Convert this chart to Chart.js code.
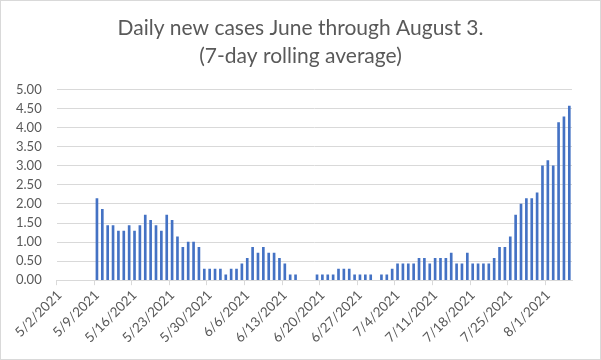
<!DOCTYPE html>
<html>
<head>
<meta charset="utf-8">
<script src="https://cdn.jsdelivr.net/npm/chart.js@4"></script>
<style>
  html, body { margin: 0; padding: 0; background: #fff; }
  #wrap { width: 601px; height: 360px; box-sizing: border-box; border: 1px solid #d9d9d9; }
</style>
</head>
<body>
<div id="wrap"><canvas id="chart" width="599" height="358"></canvas></div>
<script>
// one category per day, 5/2/2021 .. 8/5/2021
const startDay = new Date(2021, 4, 2);
const dayCount = 96;
const dates = [];
for (let i = 0; i < dayCount; i++) {
  const d = new Date(startDay.getFullYear(), startDay.getMonth(), startDay.getDate() + i);
  dates.push((d.getMonth() + 1) + '/' + d.getDate() + '/' + d.getFullYear());
}

// 7-day rolling average of daily new cases
const rollingAvg = [
  null, null, null, null, null, null, null,        // 5/2 - 5/8
  2.14, 1.86, 1.43, 1.43, 1.29, 1.29, 1.43,        // 5/9 - 5/15
  1.29, 1.43, 1.71, 1.57, 1.43, 1.29, 1.71,        // 5/16 - 5/22
  1.57, 1.14, 0.86, 1.00, 1.00, 0.86, 0.29,        // 5/23 - 5/29
  0.29, 0.29, 0.29, 0.14, 0.29, 0.29, 0.43,        // 5/30 - 6/5
  0.57, 0.86, 0.71, 0.86, 0.71, 0.71, 0.57,        // 6/6 - 6/12
  0.43, 0.14, 0.14, null, null, null, 0.14,        // 6/13 - 6/19
  0.14, 0.14, 0.14, 0.29, 0.29, 0.29, 0.14,        // 6/20 - 6/26
  0.14, 0.14, 0.14, null, 0.14, 0.14, 0.29,        // 6/27 - 7/3
  0.43, 0.43, 0.43, 0.43, 0.57, 0.57, 0.43,        // 7/4 - 7/10
  0.57, 0.57, 0.57, 0.71, 0.43, 0.43, 0.71,        // 7/11 - 7/17
  0.43, 0.43, 0.43, 0.43, 0.57, 0.86, 0.86,        // 7/18 - 7/24
  1.14, 1.71, 2.00, 2.14, 2.14, 2.29, 3.00,        // 7/25 - 7/31
  3.14, 3.00, 4.14, 4.29, 4.57                     // 8/1 - 8/5
];

const titleLines = ['Daily new cases June through August 3.', '(7-day rolling average)'];
const yMin = 0, yMax = 5, yStep = 0.5;
const labelEvery = 7;

const grey = '#595959';
const gridGrey = '#d9d9d9';

new Chart(document.getElementById('chart'), {
  type: 'bar',
  data: {
    labels: dates,
    datasets: [{
      label: 'Daily new cases',
      data: rollingAvg,
      backgroundColor: '#4472C4',
      barThickness: 2
    }]
  },
  options: {
    responsive: false,
    animation: false,
    layout: { padding: { left: 0, right: 0, top: 0, bottom: 11 } },
    plugins: {
      legend: { display: false },
      tooltip: { enabled: false },
      title: {
        display: true,
        text: titleLines,
        color: grey,
        font: { family: 'Lato', size: 21, weight: 'normal', lineHeight: 1.35 },
        padding: { top: 13, bottom: 19 }
      }
    },
    scales: {
      x: {
        offset: true,
        // first label hangs over the left margin like Excel; right margin comes from here
        // so the title stays centred on the whole canvas
        afterFit: (scale) => { scale.paddingLeft = 0; scale.paddingRight = 28; },
        grid: {
          offset: true,
          drawOnChartArea: false,
          tickLength: 5,
          color: (c) => (c.index % labelEvery === 0 ? gridGrey : 'rgba(0,0,0,0)')
        },
        border: { color: gridGrey },
        ticks: {
          autoSkip: false,
          maxRotation: 45,
          minRotation: 45,
          color: grey,
          font: { family: 'Lato', size: 13.5 },
          padding: 2,
          callback: function (value, index) {
            return index % labelEvery === 0 ? dates[index] : '';
          }
        }
      },
      y: {
        min: yMin,
        max: yMax,
        grid: { color: gridGrey, drawTicks: false },
        border: { display: false },
        ticks: {
          stepSize: yStep,
          color: grey,
          padding: 15,
          font: { family: 'Lato', size: 13 },
          callback: (v) => v.toFixed(2)
        }
      }
    }
  }
});
</script>
</body>
</html>
